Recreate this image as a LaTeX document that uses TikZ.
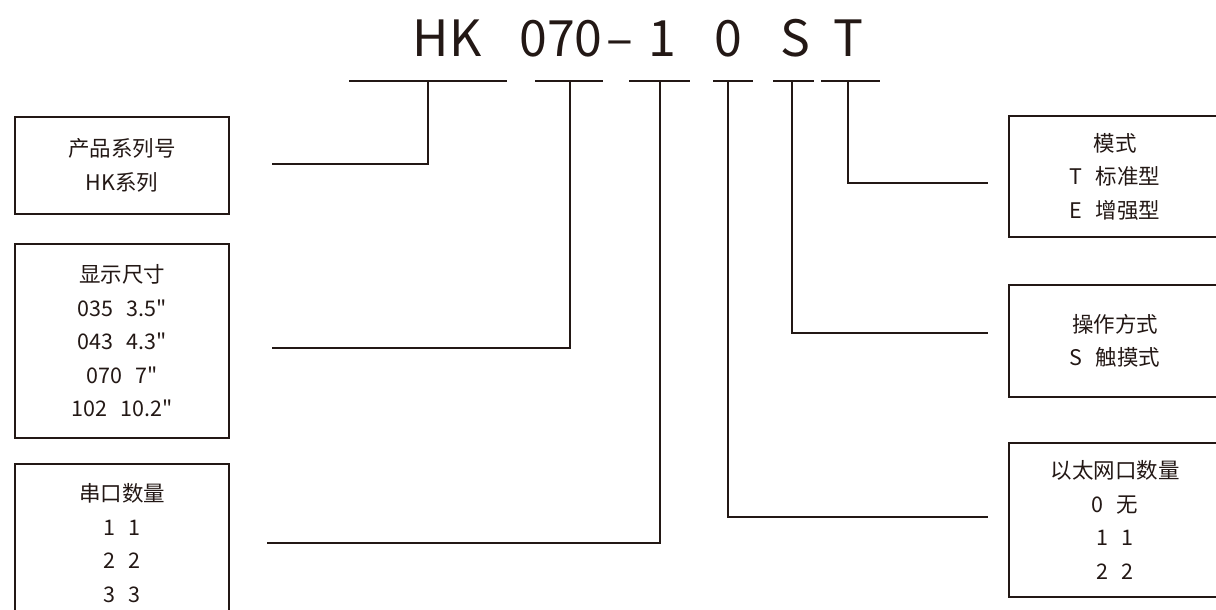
\documentclass[tikz,border=0pt]{standalone}
\usepackage{fontspec}
\newfontfamily\cjk{Noto Sans CJK SC}
\usetikzlibrary{positioning}
\definecolor{ink}{HTML}{231815}
\tikzset{
  infobox/.style={draw=ink, line width=1.6pt, inner sep=0pt, align=center, text=ink,
    font=\cjk\fontsize{21.5}{33.5}\selectfont},
  leader/.style={draw=ink, line width=1.3pt},
  codepart/.style={font=\cjk\fontsize{50}{50}\selectfont, text=ink, anchor=base, inner sep=0pt}
}
\newcommand{\gap}{\hspace{0.6em}}

\begin{document}
\begin{tikzpicture}[x=1pt, y=-1pt]
    \useasboundingbox (0,0) rectangle (1216,610);
    \clip (0,0) rectangle (1216,610);

    % Draw model code
    \node[codepart] (cHK) at (447,57) {HK};
    \node[codepart] (cSize) at (561,57) {070};
    \node[codepart] (cDash) at (620,57) {–};
    \node[codepart] (cSerial) at (662,57) {1};
    \node[codepart] (cEther) at (728,57) {0};
    \node[codepart] (cTouch) at (795,57) {S};
    \node[codepart] (cMode) at (848,57) {T};

    % Draw underlines
    \foreach \a/\b in {349/507, 535/603, 629/690, 713/753, 773/814, 821/880}
        \draw[leader] (\a,81) -- (\b,81);

    % Draw left boxes
    \node[infobox, minimum width=214pt, minimum height=97pt] (series) at (122,165.5)
        {产品系列号\\HK系列};
    \node[infobox, minimum width=214pt, minimum height=194pt] (size) at (122,341)
        {显示尺寸\\035\gap 3.5"\\043\gap 4.3"\\070\gap 7"\\102\gap 10.2"};
    \node[infobox, minimum width=214pt, minimum height=158pt] (serial) at (122,543)
        {串口数量\\1\gap 1\\2\gap 2\\3\gap 3};

    % Draw right boxes
    \node[infobox, minimum width=212pt, minimum height=121pt] (mode) at (1115,176.5)
        {模式\\T\gap 标准型\\E\gap 增强型};
    \node[infobox, minimum width=212pt, minimum height=112pt] (touch) at (1115,341)
        {操作方式\\S\gap 触摸式};
    \node[infobox, minimum width=212pt, minimum height=154pt] (ether) at (1115,520)
        {以太网口数量\\0\gap 无\\1\gap 1\\2\gap 2};

    % Draw leaders
    \coordinate (tHK) at (428,81);     \coordinate (eHK) at (272,164);
    \coordinate (tSize) at (570,81);   \coordinate (eSize) at (272,348);
    \coordinate (tSerial) at (660,81); \coordinate (eSerial) at (267,543);
    \coordinate (tEther) at (728,81);  \coordinate (eEther) at (988,517);
    \coordinate (tTouch) at (792,81);  \coordinate (eTouch) at (988,333);
    \coordinate (tMode) at (848,81);   \coordinate (eMode) at (988,183);
    \foreach \n in {HK, Size, Serial, Ether, Touch, Mode}
        \draw[leader] (t\n) |- (e\n);

\end{tikzpicture}
\end{document}
